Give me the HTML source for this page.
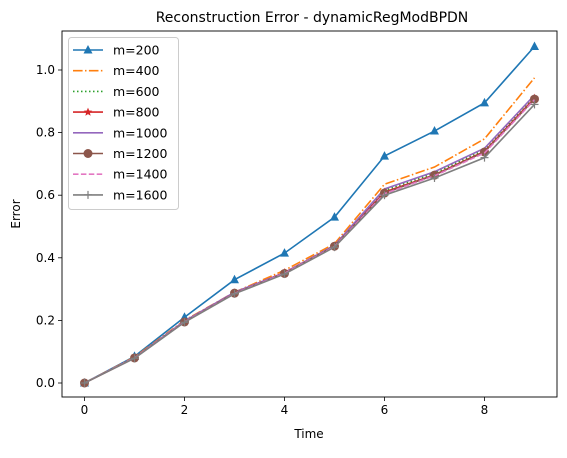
<!DOCTYPE html>
<html><head><meta charset="utf-8"><style>
body{margin:0;background:#fff;font-family:"Liberation Sans","DejaVu Sans",sans-serif;}
svg text{font-family:"DejaVu Sans","Liberation Sans",sans-serif;}
</style></head><body>
<svg id="chart" width="567" height="453" xmlns="http://www.w3.org/2000/svg"></svg>
<script>
const times=[0,1,2,3,4,5,6,7,8,9];
const labels=["m=200","m=400","m=600","m=800","m=1000","m=1200","m=1400","m=1600"];
const s200=[0,0.085,0.21,0.33,0.415,0.53,0.725,0.805,0.895,1.075];
const s400=[0,0.083,0.2,0.29,0.36,0.445,0.635,0.69,0.78,0.975];
const s600=[0,0.081,0.197,0.288,0.352,0.44,0.615,0.67,0.745,0.915];
const s800=[0,0.08,0.196,0.288,0.353,0.438,0.61,0.665,0.74,0.91];
const s1000=[0,0.081,0.198,0.29,0.352,0.44,0.62,0.675,0.75,0.92];
const s1200=[0,0.08,0.195,0.287,0.35,0.437,0.607,0.664,0.738,0.907];
const s1400=[0,0.08,0.195,0.286,0.35,0.436,0.605,0.662,0.735,0.905];
const s1600=[0,0.079,0.194,0.285,0.348,0.434,0.6,0.655,0.72,0.89];
const series=[s200,s400,s600,s800,s1000,s1200,s1400,s1600];
const xTicks=[0,2,4,6,8];
const yTicks=[0,0.2,0.4,0.6,0.8,1.0];
const colors=["#1f77b4","#ff7f0e","#2ca02c","#d62728","#9467bd","#8c564b","#e377c2","#7f7f7f"];
const dashes=["","9.6,2.4,1.5,2.4","1.5,2.5","","","","5.5,2.4",""];
const markers=["tri","","","star","","circle","","plus"];
const L=62,R=557,T=31,B=397;
const X=v=>L+(v+0.45)/9.9*(R-L);
const Y=v=>383-v*313;
const svg=document.getElementById('chart');
const NS="http://www.w3.org/2000/svg";
function mk(t,a,p){const e=document.createElementNS(NS,t);for(const k in a)e.setAttribute(k,a[k]);(p||svg).appendChild(e);return e;}
function marker(type,x,y,c,g){
 if(type==="tri")return mk('polygon',{points:`${x},${y-5} ${x-4.5},${y+3.5} ${x+4.5},${y+3.5}`,fill:c},g);
 if(type==="circle")return mk('circle',{cx:x,cy:y,r:4.5,fill:c},g);
 if(type==="star"){let p=[];for(let i=0;i<10;i++){const r=i%2?2:4.5,a=-Math.PI/2+i*Math.PI/5;p.push((x+r*Math.cos(a))+","+(y+r*Math.sin(a)));}return mk('polygon',{points:p.join(' '),fill:c},g);}
 if(type==="plus"){const gg=mk('g',{},g);mk('line',{x1:x-4,y1:y,x2:x+4,y2:y,stroke:c,'stroke-width':1.2},gg);mk('line',{x1:x,y1:y-4,x2:x,y2:y+4,stroke:c,'stroke-width':1.2},gg);return gg;}
}
let t=mk('text',{x:312,y:22,'text-anchor':'middle','font-size':14});t.textContent="Reconstruction Error - dynamicRegModBPDN";


xTicks.forEach(v=>{mk('line',{x1:X(v),y1:B,x2:X(v),y2:B+4,stroke:'#000','stroke-width':0.8});const e=mk('text',{x:X(v),y:B+17,'text-anchor':'middle','font-size':12});e.textContent=v;

});
yTicks.forEach(v=>{mk('line',{x1:L-4,y1:Y(v),x2:L,y2:Y(v),stroke:'#000','stroke-width':0.8});const e=mk('text',{x:L-7,y:Y(v)+4,'text-anchor':'end','font-size':12});e.textContent=v.toFixed(1);

});
let xl=mk('text',{x:309,y:438,'text-anchor':'middle','font-size':12});xl.textContent="Time";


let yl=mk('text',{x:20,y:214,'text-anchor':'middle','font-size':12,transform:'rotate(-90 20 214)'});yl.textContent="Error";


series.forEach((s,i)=>{
 const g=mk('g',{});
 
 
 mk('polyline',{points:s.map((v,j)=>X(times[j])+","+Y(v)).join(' '),fill:'none',stroke:colors[i],'stroke-width':1.6,'stroke-dasharray':dashes[i]},g);
 if(markers[i])s.forEach((v,j)=>marker(markers[i],X(times[j]),Y(v),colors[i],g));
});
mk('rect',{x:L,y:T,width:R-L,height:B-T,fill:'none',stroke:'#000','stroke-width':0.9});
const lg=mk('g',{});


mk('rect',{x:68.5,y:37.5,width:110,height:172,rx:3,fill:'#fff','fill-opacity':0.8,stroke:'#ccc'},lg);
labels.forEach((lab,i)=>{
 const y=50+i*20.7;
 const e=mk('g',{},lg);
 
 
 mk('line',{x1:73,y1:y,x2:103,y2:y,stroke:colors[i],'stroke-width':1.6,'stroke-dasharray':dashes[i]},e);
 if(markers[i])marker(markers[i],88,y,colors[i],e);
 const tx=mk('text',{x:113,y:y+4.5,'font-size':12.5},e);tx.textContent=lab;
});
</script>
</body></html>
